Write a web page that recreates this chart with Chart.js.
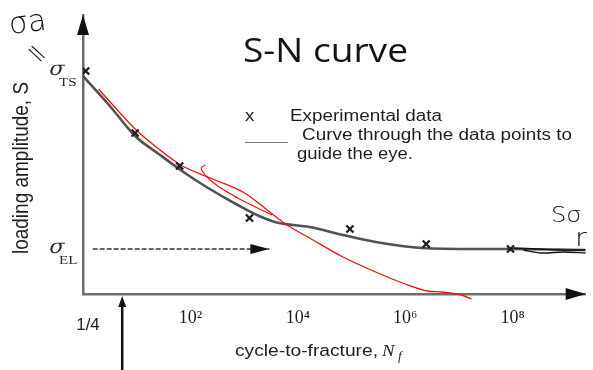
<!DOCTYPE html>
<html>
<head>
<meta charset="utf-8">
<script src="https://cdn.jsdelivr.net/npm/chart.js@4.4.0/dist/chart.umd.min.js"></script>
<style>
  html, body { margin: 0; padding: 0; background: #fff; }
  canvas { display: block; }
</style>
</head>
<body>
<canvas id="sn" width="593" height="370"></canvas>
<script>
// log10 of cycles to fracture and stress amplitude (MPa) of each tested specimen
const testLogN = [0.05, 0.97, 1.80, 3.10, 4.97, 6.39, 7.96];
const testS    = [446, 322, 256, 152, 130, 100, 90];

// faired curve through the test points
const fitLogN = [0, 0.5, 0.97, 1.41, 1.87, 2.33, 2.88, 3.28, 3.61, 4.22, 4.84, 5.45, 6.31, 7.28, 7.96, 9.36];
const fitS    = [436, 376, 316, 280, 244, 212, 178, 156, 143, 134, 118, 104, 92, 90, 90, 88];

// red pen trace drawn over the plot
const penLogN = [0.29, 0.64, 0.99, 1.41, 1.82, 2.37, 3.01, 3.43, 3.80, 4.22, 4.84, 5.45, 6.00, 6.42, 6.68, 7.05, 7.23];
const penS    = [410, 368, 328, 290, 258, 232, 202, 168, 138, 112, 74, 44, 20, 6, 4, -2, -10];
const penLoopLogN = [2.28, 2.20, 2.31, 2.51, 2.88, 3.21, 3.52];
const penLoopS    = [258, 252, 234, 216, 192, 174, 158];

// black pen strokes over the tail of the curve
const inkLogN  = [8.02, 8.48, 8.94, 9.36];
const inkS     = [92, 90, 88, 88];
const ink2LogN = [8.20, 8.53, 8.94, 9.36];
const ink2S    = [88, 82, 84, 82];

// named stress levels: tensile strength and endurance limit
const levelNames = ['TS', 'EL'];
const levelS     = [446, 90];

// dashed arrow along the endurance limit, arrow under the axis
const elArrowLogN = [0.18, 3.47];
const markLogN = 0.73;

// x axis: decades labelled as powers of ten, origin labelled 1/4
const xTickExp = [2, 4, 6, 8];
const supDigits = { '2': '\u00B2', '4': '\u2074', '6': '\u2076', '8': '\u2078' };
const originLabel = '1/4';

const pts = (xs, ys) => xs.map((x, i) => ({ x, y: ys[i] }));

const SANS = '"Liberation Sans", Arial, sans-serif';
const SERIF = '"Liberation Serif", "Times New Roman", serif';
const SX = 1.17; // horizontal stretch of the lettering

function text(ctx, str, x, y, font, opts = {}) {
  ctx.save();
  ctx.font = font;
  ctx.fillStyle = opts.color || '#1e1e1e';
  ctx.textBaseline = 'alphabetic';
  ctx.translate(x, y);
  let sx = opts.sx || SX;
  if (opts.width) sx = opts.width / ctx.measureText(str).width;
  ctx.scale(sx, 1);
  if (opts.skew) ctx.transform(1, 0, -opts.skew, 1, 0, 0);
  if (opts.rot) ctx.rotate(opts.rot);
  ctx.textAlign = opts.align || 'left';
  ctx.fillText(str, 0, 0);
  ctx.restore();
}

function arrowHead(ctx, tipX, tipY, dir, len, half, color) {
  ctx.save();
  ctx.fillStyle = color;
  ctx.beginPath();
  if (dir === 'up') {
    ctx.moveTo(tipX, tipY); ctx.lineTo(tipX - half, tipY + len); ctx.lineTo(tipX + half, tipY + len);
  } else if (dir === 'right') {
    ctx.moveTo(tipX, tipY); ctx.lineTo(tipX - len, tipY - half); ctx.lineTo(tipX - len, tipY + half);
  }
  ctx.closePath();
  ctx.fill();
  ctx.restore();
}

const decorations = {
  id: 'decorations',
  afterDatasetsDraw(chart) {
    const { ctx, chartArea: a, scales: { x, y } } = chart;
    // axis arrowheads
    arrowHead(ctx, a.left, a.top, 'up', 20, 6, '#111');
    arrowHead(ctx, a.right, a.bottom, 'right', 20, 6, '#111');
    // endurance-limit arrowhead
    arrowHead(ctx, x.getPixelForValue(elArrowLogN[1]), y.getPixelForValue(levelS[1]), 'right', 19, 5, '#111');
    // arrow from below pointing at the axis
    const mx = x.getPixelForValue(markLogN);
    ctx.save();
    ctx.strokeStyle = '#111';
    ctx.lineWidth = 2.5;
    ctx.beginPath();
    ctx.moveTo(mx, chart.height);
    ctx.lineTo(mx, a.bottom + 10);
    ctx.stroke();
    ctx.restore();
    arrowHead(ctx, mx, a.bottom + 2, 'up', 11, 4, '#111');
  },
  afterDraw(chart) {
    const { ctx, chartArea: a, scales: { x, y } } = chart;

    // title
    text(ctx, 'S-N curve', 243, 62, '32px "Open Sans", ' + SANS, { width: 165, color: '#141414' });

    // key
    text(ctx, 'x', 245, 121, '16px ' + SANS);
    ctx.save();
    ctx.strokeStyle = '#777';
    ctx.lineWidth = 1;
    ctx.beginPath();
    ctx.moveTo(245, 142.5);
    ctx.lineTo(288, 142.5);
    ctx.stroke();
    ctx.restore();
    text(ctx, 'Experimental data', 290, 121, '16px ' + SANS, { width: 152 });
    text(ctx, 'Curve through the data points to', 302, 140, '16px ' + SANS, { width: 270 });
    text(ctx, 'guide the eye.', 297, 159, '16px ' + SANS, { width: 116 });

    // stress level names on the y axis
    levelNames.forEach((name, i) => {
      const py = y.getPixelForValue(levelS[i]);
      text(ctx, '\u03C3', 48, py + 4, '20px "DejaVu Serif", ' + SERIF, { color: '#2a2a2a', skew: 0.25, sx: 1.1 });
      text(ctx, name, 59, py + 15, '13px ' + SERIF, { color: '#2a2a2a' });
    });

    // axis titles
    text(ctx, 'loading amplitude, S', 28, 168, '19px ' + SANS, { sx: SX, rot: -Math.PI / 2, align: 'center' });
    text(ctx, 'cycle-to-fracture,', 235, 356, '16px ' + SANS, { width: 143 });
    text(ctx, 'N', 382, 356, 'italic 17px ' + SERIF, { sx: 1.1 });
    text(ctx, 'f', 398, 360, 'italic 12px ' + SERIF, { sx: 1.1 });

    // origin label
    text(ctx, originLabel, x.getPixelForValue(0) + 5, 330, '16px ' + SANS, { align: 'center', sx: 1.05 });

    // pen notes
    const PEN = '200 30px "DejaVu Sans", ' + SANS;
    text(ctx, '\u03C3a', 10, 34, PEN, { color: '#111', sx: 1.0, rot: -0.12 });
    text(ctx, '=', 22, 52, '200 28px "DejaVu Sans", ' + SANS, { color: '#111', sx: 1.0, rot: 0.75 });
    text(ctx, 'S\u03C3', 551, 222, '200 22px "DejaVu Sans", ' + SANS, { color: '#111', sx: 1.1 });
    text(ctx, 'r', 575, 246, '200 24px "DejaVu Sans", ' + SANS, { color: '#111', sx: 1.2 });
  }
};

new Chart(document.getElementById('sn'), {
  type: 'line',
  data: {
    datasets: [
      {
        label: 'Experimental data',
        data: pts(testLogN, testS),
        showLine: false,
        pointStyle: 'crossRot',
        pointRadius: 5,
        pointBorderWidth: 2.3,
        borderColor: '#1e1e1e',
        backgroundColor: '#1e1e1e',
        order: 0
      },
      {
        label: 'ink',
        data: pts(inkLogN, inkS),
        borderColor: '#111',
        borderWidth: 1.4,
        pointRadius: 0,
        tension: 0.3,
        order: 1
      },
      {
        label: 'ink2',
        data: pts(ink2LogN, ink2S),
        borderColor: '#111',
        borderWidth: 1.4,
        pointRadius: 0,
        tension: 0.3,
        order: 1
      },
      {
        label: 'pen',
        data: pts(penLogN, penS),
        borderColor: '#ee1111',
        borderWidth: 1.3,
        pointRadius: 0,
        cubicInterpolationMode: 'monotone',
        clip: false,
        order: 2
      },
      {
        label: 'pen loop',
        data: pts(penLoopLogN, penLoopS),
        borderColor: '#ee1111',
        borderWidth: 1.2,
        pointRadius: 0,
        tension: 0.4,
        order: 2
      },
      {
        label: 'Curve through the data points to guide the eye.',
        data: pts(fitLogN, fitS),
        borderColor: '#525252',
        borderWidth: 2.6,
        pointRadius: 0,
        cubicInterpolationMode: 'monotone',
        order: 3
      },
      {
        label: 'endurance limit',
        data: pts(elArrowLogN, [levelS[1], levelS[1]]),
        borderColor: '#333',
        borderWidth: 1.5,
        borderDash: [5, 2],
        pointRadius: 0,
        order: 4
      }
    ]
  },
  options: {
    responsive: false,
    animation: false,
    devicePixelRatio: 1,
    layout: { padding: { top: 15, right: 0, left: 0, bottom: 0 } },
    plugins: { legend: { display: false }, tooltip: { enabled: false }, title: { display: false } },
    scales: {
      x: {
        type: 'linear',
        min: 0,
        max: 9.36,
        afterFit(scale) { scale.height = 76; },
        afterBuildTicks(scale) { scale.ticks = xTickExp.map(v => ({ value: v })); },
        grid: { display: false, drawTicks: false },
        border: { display: true, color: '#6e6e6e', width: 2.5 },
        ticks: {
          padding: 13,
          color: '#1e1e1e',
          font: { family: '"Liberation Serif", serif', size: 18 },
          maxRotation: 0,
          autoSkip: false,
          callback: v => '10' + (supDigits[String(v)] || '')
        }
      },
      y: {
        type: 'linear',
        min: 0,
        max: 558,
        afterFit(scale) { scale.width = 83; },
        grid: { display: false, drawTicks: false },
        border: { display: true, color: '#6e6e6e', width: 2.5 },
        ticks: { display: false }
      }
    }
  },
  plugins: [decorations]
});
</script>
</body>
</html>
